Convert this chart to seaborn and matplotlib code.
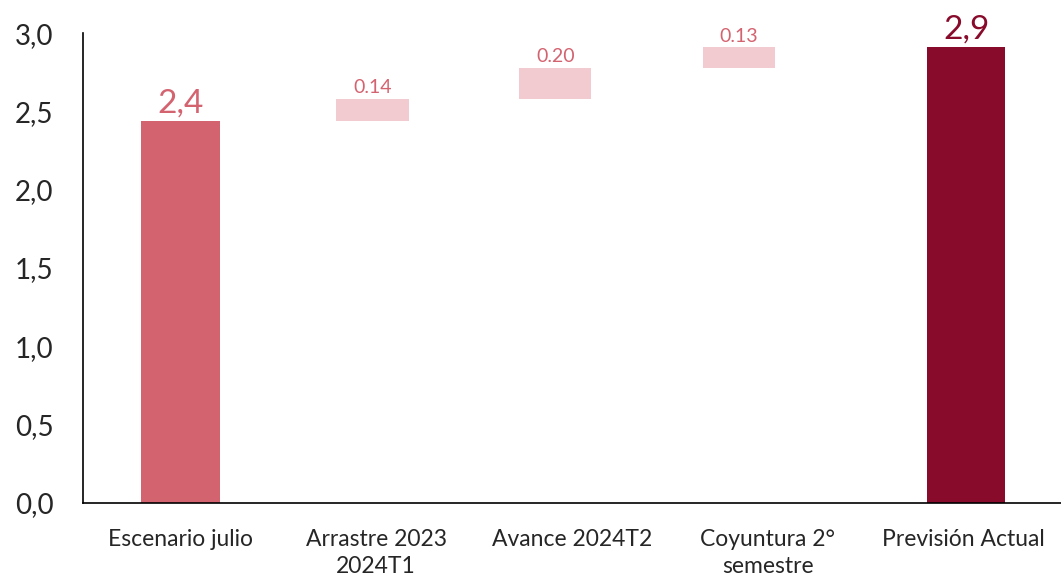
import numpy as np
import pandas as pd
import matplotlib
matplotlib.use("Agg")
import matplotlib.pyplot as plt
import seaborn as sns

# ---- data ----
categories = ["Escenario julio", "Arrastre 2023\n2024T1", "Avance 2024T2",
              "Coyuntura 2°\nsemestre", "Previsión Actual"]
start_value = 2.44
deltas = [0.14, 0.20, 0.13]
final_value = 2.91
value_labels = ["2,4", "0.14", "0.20", "0.13", "2,9"]
y_ticks = [0.0, 0.5, 1.0, 1.5, 2.0, 2.5, 3.0]

# waterfall geometry derived from data
cum = np.cumsum([start_value] + deltas)
bases = [0.0] + list(cum[:-1]) + [0.0]
heights = [start_value] + deltas + [final_value]

# ---- style ----
c_start = "#D46370"
c_delta = "#F2CBD0"
c_final = "#880B2B"
bar_colors = [c_start, c_delta, c_delta, c_delta, c_final]
label_colors = [c_start, c_start, c_start, c_start, c_final]
label_sizes = [24, 14, 14, 14, 24]
bar_widths = [0.40, 0.37, 0.37, 0.37, 0.40]
bar_shift = [0.0, -0.02, -0.085, -0.146, 0.015]

sns.set_theme(style="white")
plt.rcParams["font.family"] = ["Lato", "DejaVu Sans"]

fig = plt.figure(figsize=(10.61, 5.80), dpi=100)
ax = fig.add_axes([0.078, 0.133, 0.922, 0.810])

df = pd.DataFrame({"cat": categories, "h": heights, "b": bases})
sns.barplot(data=df, x="cat", y="h", bottom=df["b"].values, color=c_start,
            width=0.4, ax=ax, saturation=1)

for i, p in enumerate(ax.patches):
    p.set_facecolor(bar_colors[i])
    p.set_edgecolor("none")
    p.set_width(bar_widths[i])
    p.set_x(i + bar_shift[i] - bar_widths[i] / 2)
    top = bases[i] + heights[i]
    ax.text(i + bar_shift[i], top + 0.015, value_labels[i], ha="center",
            va="bottom", color=label_colors[i], fontsize=label_sizes[i])

ax.set_ylim(0, 3.0)
ax.set_xlim(-0.5, len(categories) - 0.5)
ax.set_yticks(y_ticks)
ax.set_yticklabels([f"{t:.1f}".replace(".", ",") for t in y_ticks], fontsize=20)
ax.tick_params(axis="x", labelsize=16.5, length=0, pad=19)
ax.tick_params(axis="y", length=0, pad=21)
for lbl in ax.get_xticklabels():
    lbl.set_linespacing(1.35)
ax.set_xlabel("")
ax.set_ylabel("")
for s in ["top", "right"]:
    ax.spines[s].set_visible(False)
for s in ["left", "bottom"]:
    ax.spines[s].set_color("black")
    ax.spines[s].set_linewidth(1.2)

fig.savefig("out.png", dpi=100)
